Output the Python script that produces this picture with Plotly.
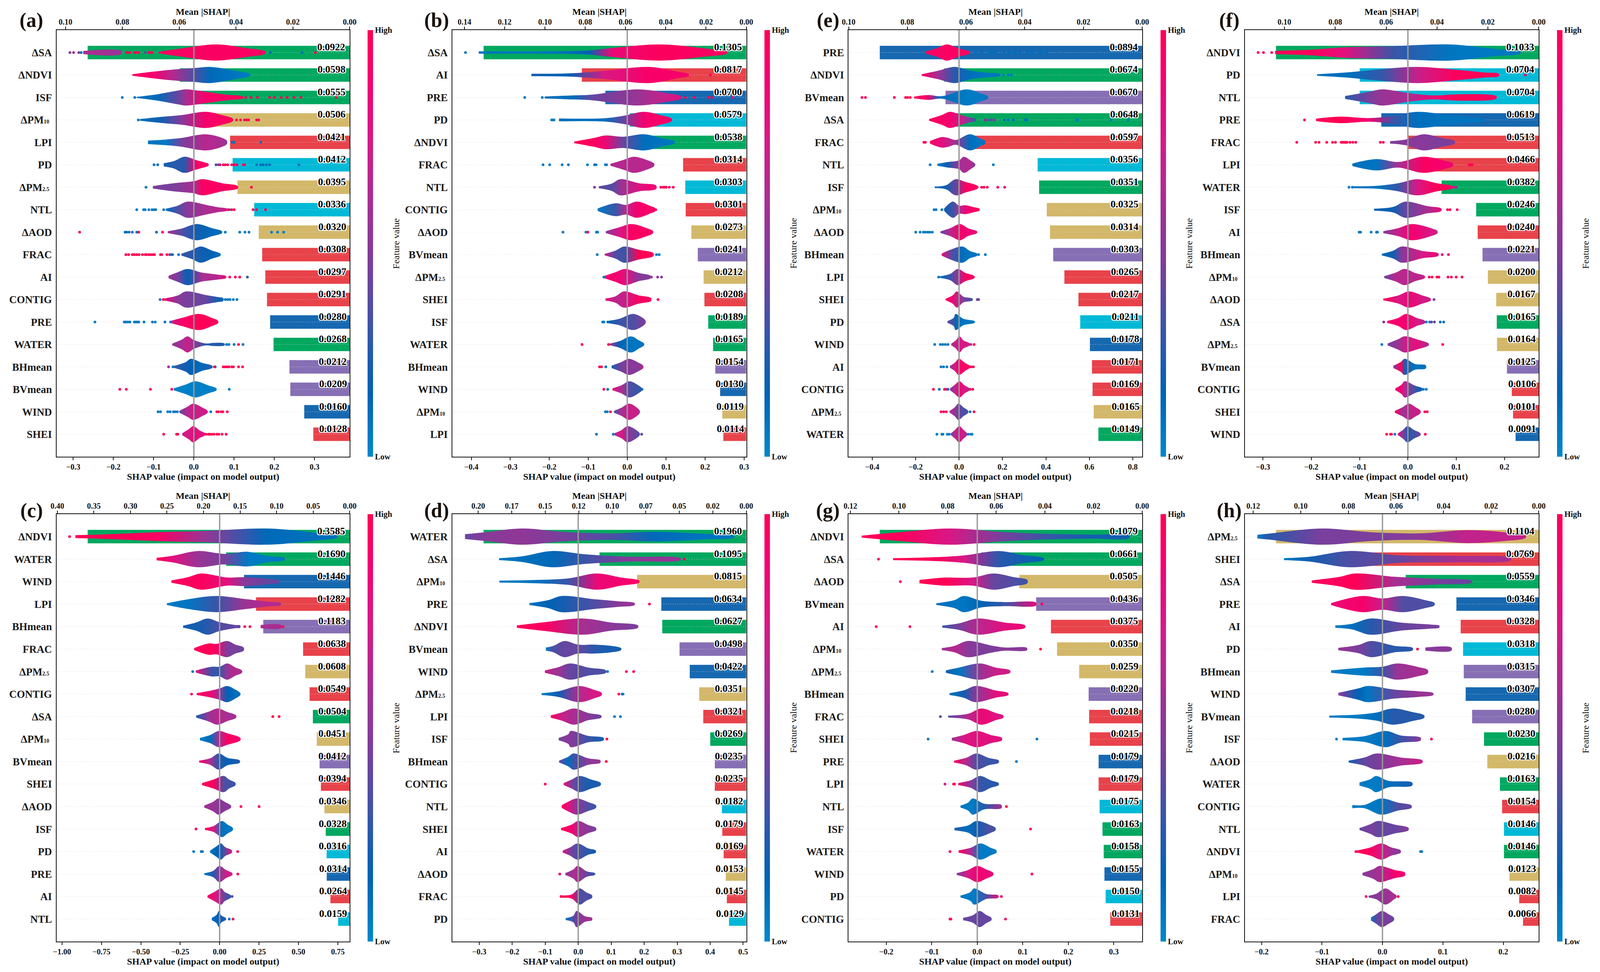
import plotly.graph_objects as go
from plotly.colors import sample_colorscale

W, H = 4328, 2488
SERIF = "Liberation Serif"
CMAP = [[0, "#0088cc"], [.15, "#0062b4"], [.3, "#3a55a8"], [.45, "#7a3f9c"], [.6, "#a82e92"],
        [.75, "#d81885"], [.9, "#f5006f"], [1, "#ff0055"]]
BAR_COLORS = {"ΔSA": "#00a85f", "ΔNDVI": "#00a85f", "ISF": "#00a85f", "WATER": "#00a85f",
              "ΔPM10": "#d3b86a", "ΔPM2.5": "#d3b86a", "ΔAOD": "#d3b86a",
              "LPI": "#e8424a", "FRAC": "#e8424a", "AI": "#e8424a", "CONTIG": "#e8424a", "SHEI": "#e8424a",
              "PD": "#00b9d6", "NTL": "#00b9d6", "PRE": "#1668b0", "WIND": "#1668b0",
              "BHmean": "#866fb4", "BVmean": "#866fb4"}

# ---------- panel (a) ----------
A_FEATURES = ["ΔSA","ΔNDVI","ISF","ΔPM10","LPI","PD","ΔPM2.5","NTL","ΔAOD","FRAC","AI","CONTIG","PRE","WATER","BHmean","BVmean","WIND","SHEI"]
A_MEANS = [.0922,.0598,.0555,.0506,.0421,.0412,.0395,.0336,.0320,.0308,.0297,.0291,.0280,.0268,.0212,.0209,.0160,.0128]
A_VIOLINS = [
 ([-.088,-.04,.055,.13,.178],[.1,.45,1,.55,.12],.95),
 ([-.153,-.10,-.055,.0,.04,.1,.14],[.1,.42,.65,.85,1,.55,.1],[.95,.9,.65,.35,.12,.08,.05]),
 ([-.142,-.09,-.04,-.02,.03,.08,.123],[.08,.4,.85,1,.7,.35,.1],[.08,.12,.4,.6,.92,.95,1]),
 ([-.134,-.08,-.03,.03,.07,.097],[.1,.38,.6,1,.6,.15],[.1,.2,.5,.92,.95,.98]),
 ([-.114,-.07,-.03,.03,.07,.082],[.22,.35,.55,1,.55,.2],[.08,.06,.45,.65,.6,.5]),
 ([-.075,-.05,-.024,.005,.03,.036],[.2,.45,1,.6,.25,.15],[.2,.25,.25,.9,.97,.9]),
 ([-.102,-.05,.0,.02,.07,.109],[.15,.5,.75,1,.5,.15],[.45,.45,.6,.95,.95,1]),
 ([-.07,-.04,-.016,.03,.06,.082],[.12,.5,1,.6,.3,.12],[.1,.35,.5,.6,.65,.7]),
 ([-.065,-.03,.007,.045,.07],[.12,.45,1,.5,.12],[.6,.35,.2,.12,.1]),
 ([-.031,-.005,.017,.045,.066],[.12,.55,1,.5,.12],[.3,.25,.2,.15,.1]),
 ([-.063,-.04,-.016,.02,.06,.08],[.15,.6,1,.55,.3,.12],[.55,.45,.15,.6,.65,.9]),
 ([-.074,-.04,-.02,.03,.06,.073],[.12,.5,1,.55,.3,.18],[.85,.5,.45,.4,.2,.12]),
 ([-.06,-.03,.013,.045,.06],[.1,.5,1,.5,.15],[.7,.92,1,.97,.95]),
 ([-.054,-.03,-.016,.0,.03,.05,.076],[.1,.6,1,.55,.12,.2,.12],[.5,.6,.7,.55,.25,.25,.2]),
 ([-.05,-.02,-.008,.02,.046],[.12,.6,1,.5,.12],[.3,.2,.15,.12,.25]),
 ([-.05,-.02,.003,.035,.056],[.12,.6,1,.5,.12],.03),
 ([-.036,-.015,-.002,.02,.034],[.12,.65,1,.55,.12],[.4,.65,.7,.7,.8]),
 ([-.029,-.012,-.002,.015,.028],[.12,.65,1,.45,.12],[.7,.75,.8,.8,.75]),
]
A_EXTRA = {0: ([-.275,-.18],[.2,.2],[.62,.55])}
A_DOTS = [
 [(.45,[-.308,-.286]),(.6,[-.299]),(.1,[-.28,.19,.269]),(.35,[-.121]),(1,[-.168,-.165,-.159,-.147,-.144,-.137,-.112,-.109,-.104,.302])],
 [],
 [(.05,[-.178,-.147]),(1,[.129,.142,.158,.188,.2,.217,.232,.249,.266,.354])],
 [(.05,[-.138]),(1,[.106,.116,.126,.131,.136,.156,.161])],
 [(.1,[.095,.1,.166])],
 [(.1,[-.099,-.09,.156,.166,.172,.18,.188,.261]),(.3,[.055]),(.5,[.061]),(.9,[.065,.126]),(1,[.073,.078,.084,.094,.1,.107,.123])],
 [(.05,[-.119]),(1,[.143])],
 [(.05,[-.142,-.125,-.121,-.112,-.104,-.099,-.095,-.075]),(.1,[.088]),(1,[.084,.094,.1,.147,.156,.178])],
 [(1,[-.284,-.137,-.078]),(.1,[-.171,-.167,-.161,-.153,-.142,-.093]),(.05,[.078,.114,.127,.137,.193,.208,.223])],
 [(1,[-.169,-.162,-.153,-.148,-.142,-.136,-.128,-.121,-.118,-.112,-.107,-.102,-.098,-.083,-.08,-.067,-.06]),(.05,[-.056,-.038]),(.1,[-.053])],
 [(1,[.089,.103,.114]),(.3,[.133])],
 [(.05,[-.084,.078,.084,.09,.098,.107]),(1,[-.076])],
 [(.05,[-.246,-.173,-.169,-.164,-.159,-.148,-.144,-.14,-.137,-.124,-.103,-.096,-.072,-.058])],
 [(.05,[.081,.087,.1,.122]),(1,[.111])],
 [(.6,[-.063]),(.05,[-.052,.053]),(1,[.051,.073,.078,.083,.087,.094,.098,.111,.121])],
 [(1,[-.184,-.168,-.108,-.055]),(.05,[.088])],
 [(.05,[-.089,-.083,-.065,-.059,-.051,-.046,-.041,.042]),(1,[.057,.061,.068,.072,.083])],
 [(1,[-.075,-.043,-.04,.03,.036,.04,.045,.05,.057,.062,.07,.08])],
]

# ---------- panel (b) ----------
B_FEATURES = ["ΔSA","AI","PRE","PD","ΔNDVI","FRAC","NTL","CONTIG","ΔAOD","BVmean","ΔPM2.5","SHEI","ISF","WATER","BHmean","WIND","ΔPM10","LPI"]
B_MEANS = [.1305,.0817,.0700,.0579,.0538,.0314,.0303,.0301,.0273,.0241,.0212,.0208,.0189,.0165,.0154,.0130,.0119,.0114]
B_VIOLINS = [
 ([-.381,-.2,-.1,-.04,.085,.2,.256],[.15,.15,.25,.55,1,.5,.12],[.08,.08,.15,.85,.97,.95,.97]),
 ([-.246,-.15,-.06,.056,.13,.158],[.15,.2,.5,1,.4,.1],[.2,.15,.75,.93,.92,.9]),
 ([-.212,-.14,-.09,.027,.1,.139],[.12,.25,.35,1,.55,.12],[.1,.1,.4,.55,.7,.8]),
 ([-.175,-.06,-.01,.043,.085,.114],[.18,.2,.5,1,.6,.15],[.1,.1,.4,.9,.93,.9]),
 ([-.136,-.085,-.055,-.01,.044,.09,.122],[.1,.55,.85,.7,1,.5,.12],[1,.95,.85,.4,.1,.08,.08]),
 ([-.043,-.01,.017,.05,.069],[.12,.6,1,.6,.15],[.6,.65,.65,.65,.6]),
 ([-.073,-.04,-.018,.03,.074],[.12,.45,1,.5,.22],[.4,.35,.55,.8,.9]),
 ([-.076,-.03,-.003,.025,.06,.072],[.15,.8,.6,1,.45,.18],[.05,.3,.65,.9,.93,.9]),
 ([-.055,-.02,.01,.05,.066],[.12,.6,1,.5,.15],[.5,.75,.95,.95,.85]),
 ([-.058,-.03,-.008,.03,.067],[.1,.5,1,.6,.18],[.7,.35,.3,1,.97]),
 ([-.06,-.03,-.006,.03,.06],[.12,.6,1,.5,.15],[.9,.9,.8,.5,.45]),
 ([-.056,-.03,-.009,.03,.061],[.12,.4,1,.5,.18],[.85,.65,.7,.95,.97]),
 ([-.052,-.02,.015,.04,.047],[.12,.4,1,.5,.15],[.15,.3,.35,.45,.45]),
 ([-.045,-.02,.01,.03,.043],[.1,.4,1,.5,.12],[.6,.15,.07,.07,.1]),
 ([-.04,-.015,.004,.03,.041],[.15,.6,1,.5,.15],[.2,.45,.5,.5,.65]),
 ([-.038,-.015,.006,.03,.038],[.12,.5,1,.45,.12],[.8,.6,.35,.3,.2]),
 ([-.034,-.015,.005,.025,.032],[.12,.5,1,.5,.15],[.35,.6,.7,.7,.5]),
 ([-.033,-.015,.001,.025,.032],[.12,.5,1,.45,.12],[.65,.75,.5,.4,.35]),
]
B_EXTRA = {}
B_DOTS = [
 [(.05,[-.415])],
 [(1,[.213])],
 [(.05,[-.263,-.218]),(1,[.149,.171,.208,.217,.271])],
 [(.05,[-.194,-.191,-.188])],
 [],
 [(.05,[-.216,-.199,-.167,-.151,-.102,-.084,-.08,-.056,-.053])],
 [(.5,[-.084]),(1,[.086,.092,.096,.1,.108,.118])],
 [(1,[.073])],
 [(.05,[-.165,-.106,-.079,-.076]),(1,[-.101])],
 [(.05,[-.077,.075,.082])],
 [(.05,[-.06]),(.6,[.062]),(.5,[.078,.088])],
 [(1,[.079])],
 [(.05,[-.063,-.06]),(.1,[-.05])],
 [(1,[-.116,-.048])],
 [(1,[-.071,-.066]),(.1,[-.055])],
 [(1,[-.06]),(.1,[-.05,.038])],
 [(.05,[-.056,-.051]),(1,[-.043])],
 [(.05,[-.079,-.036]),(.4,[.037])],
]

# ---------- panel (e) ----------
E_FEATURES = ["PRE","ΔNDVI","BVmean","ΔSA","FRAC","NTL","ISF","ΔPM10","ΔAOD","BHmean","LPI","SHEI","PD","WIND","AI","CONTIG","ΔPM2.5","WATER"]
E_MEANS = [.0894,.0674,.0670,.0648,.0597,.0356,.0351,.0325,.0314,.0303,.0265,.0217,.0211,.0178,.0171,.0169,.0165,.0149]
E_VIOLINS = [
 ([-.156,-.1,-.057,.0,.05],[.12,.55,1,.5,.12],.95),
 ([-.172,-.1,-.02,.05,.12,.19],[.1,.5,1,.55,.3,.1],[.95,.6,.25,.1,.07,.08]),
 ([-.208,-.14,-.09,-.06,.034,.1,.133],[.1,.3,.15,.25,1,.5,.12],[1,.85,.1,.1,.05,.05,.08]),
 ([-.138,-.08,-.042,.01,.05,.077],[.1,.6,1,.6,.3,.12],[.95,.93,.9,.7,.45,.3]),
 ([-.134,-.08,-.05,-.015,.05,.1,.121],[.15,.65,.55,.3,1,.45,.15],[.93,.8,.7,.55,.1,.07,.1]),
 ([-.1,-.05,.0,.022,.055,.074],[.12,.35,.55,1,.5,.12],[.07,.2,.6,.6,.65,.4]),
 ([-.112,-.06,-.016,.03,.088],[.1,.25,1,.65,.12],[.1,.2,.4,.95,.95]),
 ([-.069,-.028,.0,.03,.07,.094],[.12,1,.5,.55,.3,.12],[.2,.3,.6,.85,.95,.97]),
 ([-.086,-.04,.005,.04,.083],[.1,.5,1,.5,.1],[.4,.65,.92,.85,.85]),
 ([-.08,-.04,.016,.05,.084],[.12,.6,1,.45,.12],[.85,.4,.1,.07,.1]),
 ([-.088,-.04,-.006,.03,.071],[.1,.4,1,.5,.12],[.1,.3,.55,.95,.95]),
 ([-.062,-.03,-.01,.02,.062],[.1,.5,1,.35,.12],[.95,.85,.7,.45,.3]),
 ([-.053,-.025,-.016,.02,.072],[.12,.5,1,.4,.1],[.4,.3,.12,.07,.07]),
 ([-.036,-.015,.002,.02,.05],[.1,.5,1,.5,.1],[.6,.7,.75,.75,.7]),
 ([-.042,-.02,-.001,.03,.05],[.12,.5,1,.45,.12],[.5,.75,.9,.95,.95]),
 ([-.042,-.02,.002,.025,.049],[.1,.55,1,.5,.1],[.5,.65,.85,.75,.6]),
 ([-.044,-.02,-.003,.02,.042],[.1,.55,1,.55,.12],[.6,.55,.4,.35,.3]),
 ([-.038,-.018,.001,.02,.037],[.1,.55,1,.55,.12],[.45,.65,.75,.7,.55]),
]
E_EXTRA = {}
E_DOTS = [
 [(.1,[.075,.104,.139,.147,.156,.168,.208,.232,.249,.263,.278,.313,.331,.342,.371,.383,.4])],
 [(.05,[.203,.226,.241])],
 [(1,[-.447,-.431,-.298,-.246,-.237,-.225])],
 [(.45,[.119,.127]),(.3,[.141]),(.4,[.15]),(.5,[.165]),(.1,[.208,.226,.251,.303,.313]),(.05,[.54,.546,.7,.779])],
 [(1,[-.162,-.155])],
 [(.05,[-.133,.158])],
 [(1,[.104,.115,.13]),(.95,[.178]),(.85,[.21])],
 [(.05,[-.115,-.106,-.079])],
 [(.05,[-.199,-.179,-.164,-.155,-.144,-.135,-.123])],
 [(.05,[.09,.121])],
 [(.05,[-.094])],
 [(.45,[.084]),(.4,[.09])],
 [],
 [(.05,[-.112,-.086,-.075,-.063,-.051]),(.7,[.054]),(1,[.069])],
 [(.05,[-.083,-.071,-.056]),(1,[.055,.066])],
 [(1,[-.118,-.067,-.059,.051,.063]),(.1,[-.091,-.051])],
 [(1,[-.083,-.071,-.059,.069]),(.05,[.051])],
 [(.05,[-.102,-.079,-.074,-.054,-.045,.042,.054,.06])],
]

# ---------- panel (f) ----------
F_FEATURES = ["ΔNDVI","PD","NTL","PRE","FRAC","LPI","WATER","ISF","AI","BHmean","ΔPM10","ΔAOD","ΔSA","ΔPM2.5","BVmean","CONTIG","SHEI","WIND"]
F_MEANS = [.1033,.0704,.0704,.0619,.0513,.0466,.0382,.0246,.0240,.0221,.0200,.0167,.0165,.0164,.0125,.0106,.0101,.0091]
F_VIOLINS = [
 ([-.275,-.2,-.13,-.03,.087,.18,.233],[.2,.35,.65,.8,1,.45,.12],[1,.97,.8,.3,.07,.06,.08]),
 ([-.188,-.12,-.05,.02,.1,.16,.188],[.1,.35,.75,1,.65,.3,.15],[.1,.1,.3,.7,.97,1,.97]),
 ([-.13,-.08,-.053,.0,.05,.11,.183],[.18,.7,1,.55,.25,.4,.15],[.25,.45,.55,.6,.85,1,.95]),
 ([-.19,-.14,-.08,-.03,.019,.09,.158],[.15,.4,.22,.5,1,.55,.1],[1,1,.9,.3,.1,.08,.08]),
 ([-.037,-.005,.032,.07,.097],[.15,.35,1,.55,.15],[.45,.5,.5,.45,.45]),
 ([-.115,-.065,-.02,.032,.08,.093],[.15,.7,.35,1,.45,.18],[.1,.08,.6,.95,.9,.85]),
 ([-.113,-.06,-.02,.019,.06,.093],[.12,.2,.5,1,.5,.12],[.07,.08,.3,.75,1,.95]),
 ([-.07,-.03,-.005,.04,.069],[.12,.35,1,.45,.15],[.15,.2,.4,.6,.85]),
 ([-.051,-.02,.008,.05,.061],[.12,.5,1,.45,.15],[.45,.7,.9,.75,.7]),
 ([-.054,-.03,-.013,.03,.063],[.1,.5,1,.45,.15],[.12,.2,.5,.75,.85]),
 ([-.049,-.025,-.007,.015,.035],[.12,.55,1,.5,.12],[.4,.65,.65,.65,.7]),
 ([-.051,-.02,.002,.03,.047],[.1,.5,1,.5,.12],[1,.75,.85,.75,.7]),
 ([-.043,-.02,-.004,.02,.035],[.12,.5,1,.45,.15],[.9,.9,.9,.75,.6]),
 ([-.042,-.02,-.007,.02,.043],[.12,.65,1,.6,.12],[.45,.55,.7,.8,.6]),
 ([-.03,-.015,-.007,.015,.037],[.15,.6,1,.35,.2],[.45,1,.25,.08,.08]),
 ([-.026,-.013,-.007,.015,.03],[.12,.6,1,.45,.12],[.9,.85,.65,.3,.15]),
 ([-.027,-.01,.002,.015,.026],[.12,.6,1,.6,.15],[.95,.55,.65,.7,.7]),
 ([-.021,-.01,-.001,.012,.026],[.1,.55,1,.55,.12],[.85,.45,.25,.3,.45]),
]
F_EXTRA = {}
F_DOTS = [
 [(1,[-.31,-.299,-.282])],
 [(1,[.243])],
 [],
 [(1,[-.214])],
 [(1,[-.23,-.191,-.184,-.168,-.156,-.15,-.138,-.135,-.132,-.13,-.128,-.126,-.12,-.114,-.108,-.057,-.051])],
 [(1,[.127,.13,.133])],
 [(.05,[-.122,-.115]),(.6,[.096]),(.5,[.1])],
 [(1,[.082,.087,.102])],
 [(.05,[-.101,-.098,-.076,-.065,-.063])],
 [(.8,[.071]),(.9,[.084])],
 [(1,[.044,.05,.06,.064,.083,.09,.1,.112])],
 [(.5,[.054])],
 [(.5,[-.05]),(.05,[.038,.045]),(.4,[.049,.055]),(.1,[.067,.074])],
 [(.05,[-.054]),(1,[.072])],
 [],
 [(.05,[.032,.038])],
 [(1,[.035,.04])],
 [(1,[-.044,-.036,-.034,.036]),(.05,[-.027])],
]

# ---------- panel (c) ----------
C_FEATURES = ["ΔNDVI","WATER","WIND","LPI","BHmean","FRAC","ΔPM2.5","CONTIG","ΔSA","ΔPM10","BVmean","SHEI","ΔAOD","ISF","PD","PRE","AI","NTL"]
C_MEANS = [.3585,.1690,.1446,.1282,.1183,.0638,.0608,.0549,.0504,.0451,.0412,.0394,.0346,.0328,.0316,.0314,.0264,.0159]
C_VIOLINS = [
 ([-.915,-.7,-.4,-.1,.3,.6,.745],[.18,.3,.55,.7,1,.5,.12],[1,1,.95,.55,.12,.1,.1]),
 ([-.4,-.3,-.14,.03,.18,.3,.412],[.15,.4,1,.65,.9,.4,.12],[1,.8,.55,.45,.05,.05,.07]),
 ([-.306,-.2,-.117,.05,.15,.3,.375],[.15,.55,1,.5,.55,.35,.15],[.95,.97,.97,.8,.5,.4,.4]),
 ([-.335,-.2,-.02,.15,.3,.388],[.1,.6,1,.65,.3,.12],[.05,.07,.3,.55,.65,.6]),
 ([-.232,-.15,-.077,.0,.1,.13],[.12,.5,1,.55,.2,.15],[.2,.2,.25,.35,.4,.4]),
 ([-.162,-.07,-.02,.048,.1,.152],[.12,.7,.65,1,.55,.2],[.97,1,.95,.45,.45,.4]),
 ([-.152,-.05,.0,.048,.1,.141],[.12,.6,.6,1,.5,.15],[.8,.3,.3,.55,.65,.6]),
 ([-.146,-.05,.0,.048,.1,.131],[.12,.45,.7,1,.55,.12],[.97,.85,.5,.15,.1,.1]),
 ([-.149,-.07,-.013,.05,.104],[.12,.6,1,.55,.15],[.2,.55,.65,.6,.55]),
 ([-.125,-.06,-.005,.05,.131],[.15,.5,1,.7,.15],[.05,.1,.6,.95,.93]),
 ([-.13,-.06,-.005,.05,.127],[.12,.4,1,.45,.15],[.9,.6,.25,.15,.25]),
 ([-.112,-.04,.027,.06,.1],[.12,.55,1,.55,.15],[.95,.97,.35,.3,.3]),
 ([-.098,-.04,-.008,.03,.072],[.12,.6,1,.6,.12],[.55,.55,.5,.5,.5]),
 ([-.093,-.04,.015,.05,.083],[.12,.35,1,.55,.15],[.97,.75,.08,.07,.07]),
 ([-.061,-.02,.008,.035,.077],[.12,.65,1,.55,.15],[.08,.15,.2,.4,.8]),
 ([-.098,-.04,-.002,.04,.08],[.1,.4,1,.5,.12],[.05,.25,.5,.7,.75]),
 ([-.077,-.035,.011,.03,.072],[.12,.55,1,.6,.12],[.95,.8,.55,.4,.25]),
 ([-.05,-.02,-.005,.01,.04],[.15,.5,1,.45,.1],[.1,.15,.2,.2,.25]),
]
C_EXTRA = {4: ([.26,.39],[.2,.2],[.6,.6])}
C_DOTS = [
 [(1,[-.952])], [], [], [],
 [(1,[.159,.192,.402])],
 [],
 [(.05,[-.171])],
 [(1,[-.178])],
 [(1,[.337,.377])],
 [], [],
 [],
 [(1,[.135,.25])],
 [(1,[-.15])],
 [(.05,[-.165,-.117,-.109]),(1,[.114])],
 [(1,[.115])],
 [(.4,[.079])],
 [(.05,[.061]),(1,[.085])],
]

# ---------- panel (d) ----------
D_FEATURES = ["WATER","ΔSA","ΔPM10","PRE","ΔNDVI","BVmean","WIND","ΔPM2.5","LPI","ISF","BHmean","CONTIG","NTL","SHEI","AI","ΔAOD","FRAC","PD"]
D_MEANS = [.1960,.1095,.0815,.0634,.0627,.0498,.0422,.0351,.0321,.0269,.0235,.0235,.0182,.0179,.0169,.0153,.0145,.0129]
D_VIOLINS = [
 ([-.343,-.28,-.17,-.05,.1,.23,.38,.472],[.3,.55,1,.6,.4,.6,.35,.12],[.4,.5,.52,.45,.35,.12,.08,.08]),
 ([-.24,-.17,-.08,.02,.15,.31],[.12,.35,1,.6,.3,.12],[.05,.1,.12,.3,.5,.55]),
 ([-.239,-.13,-.03,.057,.13,.185],[.12,.2,.4,1,.5,.12],[.05,.08,.3,.85,.9,.95]),
 ([-.148,-.09,-.05,.05,.12,.171],[.12,.5,1,.6,.35,.12],[.08,.15,.2,.35,.5,.55]),
 ([-.186,-.1,.015,.1,.181],[.15,.55,1,.5,.15],[1,.95,.6,.5,.45]),
 ([-.098,-.075,-.042,.0,.05,.1,.13],[.2,.4,1,.55,.55,.4,.12],[.05,.35,.4,.4,.25,.2,.2]),
 ([-.101,-.06,-.025,.03,.084],[.15,.55,1,.5,.15],[.7,.55,.4,.35,.35]),
 ([-.111,-.06,.004,.05,.071],[.12,.35,1,.5,.15],[.05,.2,.65,.75,.75]),
 ([-.083,-.05,-.013,.03,.07],[.15,.5,1,.45,.12],[.97,.7,.6,.5,.4]),
 ([-.059,-.03,-.023,.03,.077],[.15,.6,1,.4,.15],[.45,.5,.5,.3,.2]),
 ([-.058,-.03,-.015,.03,.067],[.12,.6,1,.4,.15],[.4,.1,.3,.5,.55]),
 ([-.044,-.02,.004,.04,.068],[.12,.55,1,.55,.15],[.85,.45,.3,.2,.25]),
 ([-.05,-.03,-.004,.03,.054],[.15,.6,1,.55,.15],[1,.8,.5,.35,.3]),
 ([-.052,-.02,.0,.03,.054],[.12,.55,1,.5,.15],[1,.9,.6,.5,.45]),
 ([-.047,-.025,-.002,.03,.053],[.12,.5,1,.4,.15],[.8,.45,.35,.25,.2]),
 ([-.039,-.015,-.002,.025,.051],[.12,.55,1,.35,.1],[.5,.6,.6,.4,.25]),
 ([-.05,-.02,.004,.025,.042],[.15,.25,1,.5,.15],[1,.95,.35,.35,.3]),
 ([-.038,-.015,-.005,.02,.042],[.12,.4,1,.35,.15],[.05,.35,.45,.55,.6]),
]
D_EXTRA = {}
D_DOTS = [
 [],
 [(1,[.321])],
 [],
 [(1,[.216])],
 [],
 [],
 [(.05,[.089]),(1,[.146,.168])],
 [(1,[.123]),(.05,[.133,.136])],
 [(.05,[.11,.128])],
 [(1,[.087])],
 [(1,[.085])],
 [(1,[-.1])],
 [], [], [],
 [(1,[-.056])],
 [(1,[-.052])],
 [],
]

# ---------- panel (g) ----------
G_FEATURES = ["ΔNDVI","ΔSA","ΔAOD","BVmean","AI","ΔPM10","ΔPM2.5","BHmean","FRAC","SHEI","PRE","LPI","NTL","ISF","WATER","WIND","PD","CONTIG"]
G_MEANS = [.1079,.0661,.0505,.0436,.0375,.0350,.0259,.0220,.0218,.0215,.0179,.0179,.0175,.0163,.0158,.0155,.0150,.0131]
G_VIOLINS = [
 ([-.254,-.17,-.06,.05,.15,.25,.334],[.12,.55,1,.6,.35,.25,.18],[1,.97,.75,.45,.3,.2,.2]),
 ([-.185,-.1,-.03,.048,.1,.146],[.12,.22,.45,1,.5,.12],[1,1,.75,.25,.2,.15]),
 ([-.127,-.07,-.01,.036,.08,.11],[.2,.5,.5,1,.55,.2],[1,1,.75,.4,.35,.3]),
 ([-.09,-.05,-.03,.01,.06,.129],[.1,.5,1,.4,.25,.18],[.1,.07,.07,.15,.3,.85]),
 ([-.077,-.04,.001,.06,.105],[.12,.4,1,.5,.15],[.3,.45,.65,.8,.85]),
 ([-.078,-.05,-.021,.03,.06,.109],[.12,.4,1,.45,.2,.15],[.55,.65,.5,.45,.5,.5]),
 ([-.069,-.04,.006,.04,.072],[.15,.5,1,.5,.15],[.2,.07,.55,.7,.75]),
 ([-.061,-.03,-.004,.04,.068],[.12,.45,1,.45,.12],[.1,.2,.5,.8,.85]),
 ([-.064,-.02,.009,.04,.057],[.12,.35,1,.45,.15],[.35,.65,.85,.8,.75]),
 ([-.056,-.03,-.001,.03,.054],[.15,.5,1,.5,.15],[.55,.75,.8,.8,.8]),
 ([-.051,-.025,-.002,.025,.047],[.12,.45,1,.45,.15],[.95,.65,.35,.3,.3]),
 ([-.042,-.015,.006,.03,.047],[.12,.45,1,.45,.12],[.9,.5,.3,.25,.25]),
 ([-.037,-.02,-.01,.015,.053],[.12,.5,1,.35,.2],[.07,.05,.05,.25,.6]),
 ([-.05,-.02,-.002,.03,.04],[.15,.45,1,.45,.15],[.25,.1,.2,.35,.3]),
 ([-.041,-.015,.007,.03,.042],[.15,.45,1,.45,.15],[.95,.6,.05,.05,.05]),
 ([-.045,-.02,.0,.02,.035],[.12,.5,1,.55,.15],[.45,.75,.9,.85,.8]),
 ([-.037,-.015,-.007,.02,.046],[.12,.55,1,.3,.15],[.05,.05,.05,.35,.85]),
 ([-.031,-.01,.005,.02,.031],[.15,.45,1,.5,.15],.4),
]
G_EXTRA = {}
G_DOTS = [
 [],
 [(.9,[-.217])],
 [(1,[-.169])],
 [(1,[.142])],
 [(1,[-.222,-.148])],
 [(1,[.139])],
 [(.05,[-.099])],
 [],
 [(.4,[-.081])],
 [(.05,[-.108,.131])],
 [(.05,[.086])],
 [(.7,[-.071]),(1,[-.052,-.05])],
 [(1,[.064])],
 [(1,[.117])],
 [(1,[-.06])],
 [(1,[.12])],
 [(1,[.053])],
 [(1,[-.06,-.058,.062])],
]

# ---------- panel (h) ----------
H_FEATURES = ["ΔPM2.5","SHEI","ΔSA","PRE","AI","PD","BHmean","WIND","BVmean","ISF","ΔAOD","WATER","CONTIG","NTL","ΔNDVI","ΔPM10","LPI","FRAC"]
H_MEANS = [.1104,.0769,.0559,.0346,.0328,.0318,.0315,.0307,.0280,.0230,.0216,.0163,.0154,.0146,.0146,.0123,.0082,.0066]
H_VIOLINS = [
 ([-.207,-.19,-.1,-.02,.06,.14,.2,.237],[.22,.35,1,.55,.4,.8,.55,.15],[.05,.25,.45,.45,.5,.68,.68,.68]),
 ([-.163,-.12,-.055,.03,.12,.212],[.12,.3,1,.45,.4,.15],[.05,.2,.35,.4,.6,.6]),
 ([-.117,-.07,-.046,.02,.09,.148],[.15,.6,1,.6,.35,.12],[.97,.97,1,.6,.45,.4]),
 ([-.085,-.033,.0,.034,.07,.086],[.12,1,.7,1,.5,.15],[.85,.92,.7,.35,.35,.3]),
 ([-.078,-.05,-.02,.03,.08,.094],[.15,.35,1,.5,.25,.12],[.05,.1,.25,.4,.45,.45]),
 ([-.073,-.04,-.019,.02,.05],[.15,.5,1,.4,.15],[.55,.45,.35,.25,.25]),
 ([-.085,-.03,.0,.024,.06,.075],[.15,.5,.6,1,.55,.2],[.05,.05,.3,.55,.6,.6]),
 ([-.073,-.04,-.025,.02,.06,.084],[.15,.7,1,.55,.35,.12],[.5,.15,.07,.4,.55,.55]),
 ([-.088,-.04,-.01,.017,.05,.069],[.12,.25,.5,1,.55,.15],[.05,.05,.1,.25,.25,.25]),
 ([-.066,-.03,.005,.03,.063],[.15,.35,1,.45,.18],[.05,.05,.1,.3,.5]),
 ([-.056,-.03,-.01,.03,.066],[.12,.5,1,.5,.15],[.2,.4,.45,.6,.7]),
 ([-.038,-.02,-.011,.01,.049],[.2,.6,1,.4,.2],[.05,.05,.05,.1,.2]),
 ([-.05,-.03,-.002,.025,.048],[.2,.2,1,.5,.15],[.05,.05,.07,.35,.4]),
 ([-.038,-.02,-.008,.02,.043],[.12,.6,1,.55,.15],[.4,.45,.4,.4,.5]),
 ([-.043,-.02,-.002,.015,.03],[.12,.5,1,.5,.15],[1,.95,.75,.55,.5]),
 ([-.033,-.015,-.005,.02,.037],[.15,.6,1,.5,.2],[.5,.55,.6,.9,.9]),
 ([-.023,-.01,.005,.02,.023],[.1,.35,1,.3,.15],[.45,.5,.55,.6,.65]),
 ([-.019,-.012,-.001,.01,.019],[.2,.5,1,.6,.15],[.05,.35,.45,.45,.4]),
]
H_EXTRA = {5: ([.071,.114],[.2,.2],[.5,.5])}
H_DOTS = [
 [], [], [], [], [],
 [(1,[.058])],
 [], [], [],
 [(.05,[-.076]),(1,[.081])],
 [], [], [], [],
 [(1,[-.044]),(.05,[.063,.065])],
 [],
 [(.9,[-.027]),(1,[.026])],
 [],
]

# axis ranges and ticks
A_RANGE, B_RANGE, E_RANGE, F_RANGE = [-.3415,.3873], [-.4488,.3055], [-.5087,.843], [-.3377,.2708]
C_RANGE, D_RANGE, G_RANGE, H_RANGE = [-1.035,.825], [-.3815,.5095], [-.2828,.3622], [-.2278,.2585]
A_TICKS, B_TICKS = [-.3,-.2,-.1,0,.1,.2,.3], [-.4,-.3,-.2,-.1,0,.1,.2,.3]
E_TICKS, F_TICKS = [-.4,-.2,0,.2,.4,.6,.8], [-.3,-.2,-.1,0,.1,.2]
C_TICKS, D_TICKS = [-1,-.75,-.5,-.25,0,.25,.5,.75], [-.3,-.2,-.1,0,.1,.2,.3,.4,.5]
G_TICKS, H_TICKS = [-.2,-.1,0,.1,.2,.3], [-.2,-.1,0,.1,.2]
A_TOP = [.1,.08,.06,.04,.02,0]
B_TOP = [.14,.12,.1,.08,.06,.04,.02,0]
C_TOP = [.4,.35,.3,.25,.2,.15,.1,.05,0]
D_TOP = [.2,.175,.15,.125,.1,.075,.05,.025,0]
D_TOP_TEXT = ["0.20","0.17","0.15","0.12","0.10","0.07","0.05","0.02","0.00"]
G_TOP = [.12,.1,.08,.06,.04,.02,0]

# geometry: letter, left, right, top, bottom, colourbar x, letter centre x, letter centre y
PANELS = [
 ("(a)",136,936,77,1169,985,68,52,A_FEATURES,A_MEANS,A_VIOLINS,A_EXTRA,A_DOTS,A_RANGE,A_TICKS,".1f",A_TOP,None),
 ("(b)",1216,2018,77,1169,2068,1173,52,B_FEATURES,B_MEANS,B_VIOLINS,B_EXTRA,B_DOTS,B_RANGE,B_TICKS,".1f",B_TOP,None),
 ("(e)",2297,3098,77,1169,3148,2241,52,E_FEATURES,E_MEANS,E_VIOLINS,E_EXTRA,E_DOTS,E_RANGE,E_TICKS,".1f",A_TOP,None),
 ("(f)",3378,4180,77,1169,4230,3336,52,F_FEATURES,F_MEANS,F_VIOLINS,F_EXTRA,F_DOTS,F_RANGE,F_TICKS,".1f",A_TOP,None),
 ("(c)",136,936,1316,2410,985,68,1307,C_FEATURES,C_MEANS,C_VIOLINS,C_EXTRA,C_DOTS,C_RANGE,C_TICKS,".2f",C_TOP,None),
 ("(d)",1216,2018,1316,2410,2068,1173,1307,D_FEATURES,D_MEANS,D_VIOLINS,D_EXTRA,D_DOTS,D_RANGE,D_TICKS,".1f",D_TOP,D_TOP_TEXT),
 ("(g)",2297,3098,1316,2410,3148,2241,1307,G_FEATURES,G_MEANS,G_VIOLINS,G_EXTRA,G_DOTS,G_RANGE,G_TICKS,".1f",G_TOP,None),
 ("(h)",3378,4180,1316,2410,4230,3336,1307,H_FEATURES,H_MEANS,H_VIOLINS,H_EXTRA,H_DOTS,H_RANGE,H_TICKS,".1f",G_TOP,None),
]

HALF = 0.36
BAR_H = 0.6
fig = go.Figure()
layout = dict(autosize=True, margin=dict(l=0, r=0, t=0, b=0, pad=0),
              paper_bgcolor="white", plot_bgcolor="white", showlegend=False, barmode="overlay",
              font=dict(family=SERIF, color="#111"))
annos, shapes = [], []
BOLD20 = dict(family=SERIF, size=20, color="#111", weight=700)
TITLE24 = dict(family=SERIF, size=24, color="#111", weight=700)
HALO = ",".join(f"{a}px {b}px 0 white" for a, b in [(2,0),(-2,0),(0,2),(0,-2),(2,2),(-2,-2),(2,-2),(-2,2)])


def label(name):
    for s in ("10", "2.5"):
        if name.endswith(s) and name.startswith("ΔPM"):
            return "ΔPM<span style='font-size:14px'>" + s + "&#160;&#160;</span>"
    return name


def add_violin(seg, y, xa, ya):
    xs, ws, cs = seg
    cs = cs if isinstance(cs, list) else [cs] * len(xs)
    span = xs[-1] - xs[0]
    stops = [[(x - xs[0]) / span, sample_colorscale(CMAP, [c])[0]] for x, c in zip(xs, cs)]
    fig.add_trace(go.Scatter(
        x=xs + xs[::-1],
        y=[y + w * HALF for w in ws] + [y - w * HALF for w in ws[::-1]],
        mode="lines", line=dict(width=0, shape="spline", smoothing=1, color="rgba(0,0,0,0)"),
        fill="toself", fillgradient=dict(type="horizontal", colorscale=stops),
        hoverinfo="skip", xaxis=xa, yaxis=ya))


for k, p in enumerate(PANELS, 1):
    letter, L, R, T, B, cb, lx, ly, feats, means, viol, extra, dots, rng, ticks, fmt, top, top_text = p
    xb, xs_ = 2 * k - 1, 2 * k
    xa_b = "x" if xb == 1 else f"x{xb}"
    xa_s = f"x{xs_}"
    ya = "y" if k == 1 else f"y{k}"
    n = len(feats)
    rows = [n - 1 - i for i in range(n)]

    fig.add_trace(go.Bar(x=means, y=rows, orientation="h", width=BAR_H,
                         marker=dict(color=[BAR_COLORS[f] for f in feats], line=dict(width=0)),
                         hoverinfo="skip", xaxis=xa_b, yaxis=ya))
    grid_x, grid_y = [], []
    for r in rows:
        grid_x += [rng[0], rng[1], None]
        grid_y += [r, r, None]
    fig.add_trace(go.Scatter(x=grid_x, y=grid_y, mode="lines",
                             line=dict(color="rgba(215,215,215,0.55)", width=1.2, dash="dot"),
                             hoverinfo="skip", xaxis=xa_s, yaxis=ya))
    for i, seg in enumerate(viol):
        add_violin(seg, rows[i], xa_s, ya)
        if i in extra:
            add_violin(extra[i], rows[i], xa_s, ya)
    dx, dy, dc = [], [], []
    for i, groups in enumerate(dots):
        for c, vals in groups:
            for v in vals:
                dx.append(v); dy.append(rows[i]); dc.append(c)
    caxis = "coloraxis" if k == 1 else f"coloraxis{k}"
    fig.add_trace(go.Scatter(x=dx, y=dy, mode="markers",
                             marker=dict(size=7, color=dc, coloraxis=caxis, line=dict(width=0)),
                             hoverinfo="skip", xaxis=xa_s, yaxis=ya))

    layout[caxis] = dict(cmin=0, cmax=1, colorscale=CMAP, colorbar=dict(
        x=cb / W, xanchor="left", y=1 - (T + B) / 2 / H, yanchor="middle", len=(B - T) / H, lenmode="fraction",
        thickness=14, thicknessmode="pixels", outlinewidth=0, xpad=0, ypad=0, ticks="",
        tickvals=[0, 1], ticktext=["Low", "High"], tickfont=dict(family=SERIF, size=21, color="#111", weight=700)))

    dom_x = [L / W, R / W]
    dom_y = [1 - B / H, 1 - T / H]
    layout[("xaxis" if xb == 1 else f"xaxis{xb}")] = dict(
        domain=dom_x, anchor=ya, side="top", range=[means[0] * 1.119, 0], tickmode="array", tickvals=top,
        ticktext=top_text if top_text else [f"{v:.2f}" for v in top], ticks="outside", ticklen=7, tickwidth=2,
        tickcolor="#111", tickfont=BOLD20, showgrid=False, zeroline=False, showline=True, linewidth=2.4,
        linecolor="#111", ticklabelstandoff=-3)
    layout[f"xaxis{xs_}"] = dict(
        domain=dom_x, anchor=ya, overlaying=xa_b, side="bottom", range=rng, tickmode="array", tickvals=ticks,
        tickformat=fmt, ticks="outside", ticklen=7, tickwidth=2, tickcolor="#111", tickfont=BOLD20,
        showgrid=False, zeroline=False, showline=True, linewidth=2.4, linecolor="#111",
        title=dict(text="SHAP value (impact on model output)", font=TITLE24, standoff=6))
    layout[("yaxis" if k == 1 else f"yaxis{k}")] = dict(
        domain=dom_y, anchor=xa_s, range=[-1, n], tickmode="array", tickvals=rows, ticktext=[label(f) for f in feats],
        ticks="", tickfont=dict(family=SERIF, size=27, color="#1a1a1a", weight=700), showgrid=False, zeroline=False,
        showline=True, linewidth=2.4, linecolor="#111", mirror=True, ticklabelstandoff=4)

    shapes.append(dict(type="line", xref=xa_s, yref=f"{ya} domain", x0=0, x1=0, y0=0, y1=1,
                       line=dict(color="#999999", width=3.4), layer="above"))
    for i, m in enumerate(means):
        annos.append(dict(xref=xa_b, yref=ya, x=0, y=rows[i], text=f"{m:.4f}", showarrow=False,
                          xanchor="right", yanchor="middle", xshift=-(9 - 5 * i / 17), yshift=14,
                          font=dict(family=SERIF, size=26, color="black", weight=700, shadow=HALO)))
    annos.append(dict(xref="paper", yref="paper", x=(L + R) / 2 / W, y=1 - (T - 47) / H, text="Mean |SHAP|",
                      showarrow=False, xanchor="center", yanchor="middle", font=TITLE24))
    annos.append(dict(xref="paper", yref="paper", x=lx / W, y=1 - ly / H, text=letter, showarrow=False,
                      xanchor="center", yanchor="middle",
                      font=dict(family=SERIF, size=52, color="#1a1008", weight=700)))
    annos.append(dict(xref="paper", yref="paper", x=(cb + 78) / W, y=1 - (T + B) / 2 / H, text="Feature value",
                      showarrow=False, textangle=-90, xanchor="center", yanchor="middle",
                      font=dict(family=SERIF, size=24, color="#111")))

layout["annotations"] = annos
layout["shapes"] = shapes
fig.update_layout(**layout)
fig.write_html("out.html", default_width="100vw", default_height="100vh",
               config=dict(displayModeBar=False),
               post_script="document.body.style.margin='0';document.body.style.overflow='hidden';window.dispatchEvent(new Event('resize'));")
